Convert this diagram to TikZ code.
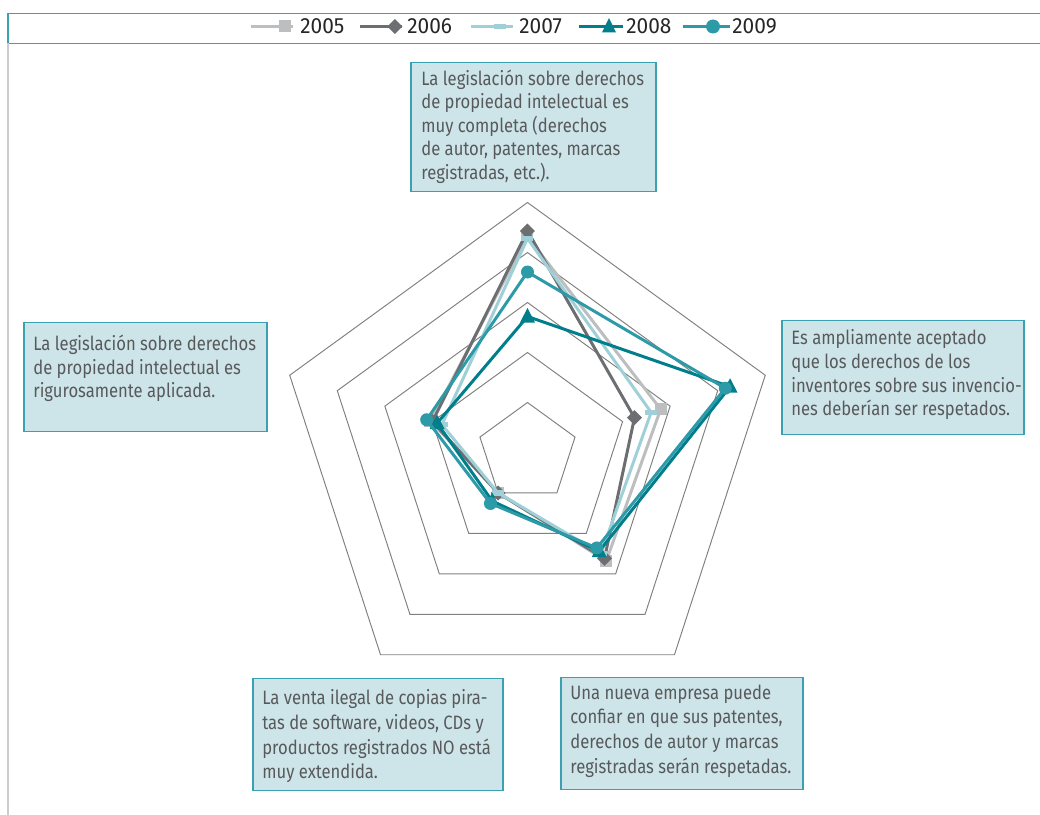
\documentclass[tikz,border=0pt]{standalone}
\usepackage{fontspec}
\setmainfont{Fira Sans}[FakeStretch = 0.86]
\newfontfamily\fonteano{Fira Sans}[FakeStretch = 0.95]
\usepackage{xcolor}

\definecolor{c2005}{HTML}{BCBEC0}
\definecolor{c2006}{HTML}{6D6E71}
\definecolor{c2007}{HTML}{9FD0D8}
\definecolor{c2008}{HTML}{007E8C}
\definecolor{c2009}{HTML}{2D9AA8}
\definecolor{fundocaixa}{HTML}{CDE5E9}
\definecolor{bordacaixa}{HTML}{3AA0B2}
\definecolor{textocaixa}{HTML}{58595B}
\definecolor{grade}{HTML}{808080}

\begin{document}
\begin{tikzpicture}[scale = 1,
	grade/.style  = {draw = grade, line width = 0.55pt, line join = miter},
	serie/.style  = {line width = 1.7pt, line join = round},
	caixa/.style  = {fill = fundocaixa, draw = bordacaixa, line width = 0.8pt},
	rotulo/.style = {anchor = north west, align = left, inner sep = 0pt, text = textocaixa,
	                 font = \fontsize{11}{13.4}\selectfont},
	rotulobaixo/.style = {rotulo, font = \fontsize{11}{14}\selectfont},
	ano/.style    = {anchor = west, inner sep = 0pt, text = black!85,
	                 font = \fonteano\fontsize{12.5}{14}\selectfont}]

	\useasboundingbox (-10.55, -7.25) rectangle (10.25, 9.05);

	%%% MOLDURA E LEGENDA %%%

	\draw[bordacaixa, line width = 0.9pt] (-10.39, 8.78) rectangle (10.6, 8.18);
	\draw[black!20, line width = 0.8pt] (-10.39, 8.18) -- (-10.39, -7.25);

	\draw[c2005, line width = 1.7pt] (-5.53, 8.52) -- (-4.69, 8.52);
	\fill[c2005] (-4.97, 8.40) rectangle (-4.73, 8.64);
	\node[ano] (ano2005) at (-4.55, 8.52) {2005};

	\draw[c2006, line width = 1.7pt] (-3.35, 8.52) -- (-2.51, 8.52);
	\fill[c2006] (-2.65, 8.67) -- (-2.50, 8.52) -- (-2.65, 8.37) -- (-2.80, 8.52) -- cycle;
	\node[ano] (ano2006) at (-2.41, 8.52) {2006};

	\draw[c2007, line width = 1.7pt] (-1.13, 8.52) -- (-0.29, 8.52);
	\draw[c2007, line width = 3pt] (-0.67, 8.52) -- (-0.43, 8.52);
	\node[ano] (ano2007) at (-0.17, 8.52) {2007};

	\draw[c2008, line width = 1.7pt] (1.03, 8.52) -- (1.91, 8.52);
	\fill[c2008] (1.63, 8.69) -- (1.77, 8.40) -- (1.49, 8.40) -- cycle;
	\node[ano] (ano2008) at (1.97, 8.52) {2008};

	\draw[c2009, line width = 1.7pt] (3.11, 8.52) -- (4.05, 8.52);
	\fill[c2009] (3.71, 8.52) circle (0.14);
	\node[ano] (ano2009) at (4.09, 8.52) {2009};


	%%% GRADE DO RADAR %%%

	\draw[grade] (90:1) -- (18:1) -- (-54:1) -- (-126:1) -- (162:1) -- cycle;
	\draw[grade] (90:2) -- (18:2) -- (-54:2) -- (-126:2) -- (162:2) -- cycle;
	\draw[grade] (90:3) -- (18:3) -- (-54:3) -- (-126:3) -- (162:3) -- cycle;
	\draw[grade] (90:4) -- (18:4) -- (-54:4) -- (-126:4) -- (162:4) -- cycle;
	\draw[grade] (90:5) -- (18:5) -- (-54:5) -- (-126:5) -- (162:5) -- cycle;


	%%% SERIES %%%

	% 2005
	\draw[serie, c2005] (90:4.32) -- (18:2.80) -- (-54:2.68) -- (-126:1.00) -- (162:2.04) -- cycle;
	\fill[c2005] (90:4.32) +(-0.12, -0.12) rectangle +(0.12, 0.12);
	\fill[c2005] (18:2.80) +(-0.12, -0.12) rectangle +(0.12, 0.12);
	\fill[c2005] (-54:2.68) +(-0.12, -0.12) rectangle +(0.12, 0.12);
	\fill[c2005] (-126:1.00) +(-0.12, -0.12) rectangle +(0.12, 0.12);
	\fill[c2005] (162:2.04) +(-0.12, -0.12) rectangle +(0.12, 0.12);

	% 2006
	\draw[serie, c2006] (90:4.43) -- (18:2.25) -- (-54:2.62) -- (-126:1.00) -- (162:2.00) -- cycle;
	\fill[c2006] (90:4.43) +(0, 0.15) -- +(0.15, 0) -- +(0, -0.15) -- +(-0.15, 0) -- cycle;
	\fill[c2006] (18:2.25) +(0, 0.15) -- +(0.15, 0) -- +(0, -0.15) -- +(-0.15, 0) -- cycle;
	\fill[c2006] (-54:2.62) +(0, 0.15) -- +(0.15, 0) -- +(0, -0.15) -- +(-0.15, 0) -- cycle;
	\fill[c2006] (-126:1.00) +(0, 0.15) -- +(0.15, 0) -- +(0, -0.15) -- +(-0.15, 0) -- cycle;
	\fill[c2006] (162:2.00) +(0, 0.15) -- +(0.15, 0) -- +(0, -0.15) -- +(-0.15, 0) -- cycle;

	% 2007
	\draw[serie, c2007] (90:4.28) -- (18:2.60) -- (-54:2.50) -- (-126:1.00) -- (162:1.80) -- cycle;
	\draw[c2007, line width = 3pt] (90:4.28) +(-0.12, 0) -- +(0.12, 0);
	\draw[c2007, line width = 3pt] (18:2.60) +(-0.12, 0) -- +(0.12, 0);
	\draw[c2007, line width = 3pt] (-54:2.50) +(-0.12, 0) -- +(0.12, 0);
	\draw[c2007, line width = 3pt] (-126:1.00) +(-0.12, 0) -- +(0.12, 0);
	\draw[c2007, line width = 3pt] (162:1.80) +(-0.12, 0) -- +(0.12, 0);

	% 2008
	\draw[serie, c2008] (90:2.72) -- (18:4.26) -- (-54:2.44) -- (-126:1.20) -- (162:1.90) -- cycle;
	\fill[c2008] (90:2.72) +(0, 0.17) -- +(0.15, -0.12) -- +(-0.15, -0.12) -- cycle;
	\fill[c2008] (18:4.26) +(0, 0.17) -- +(0.15, -0.12) -- +(-0.15, -0.12) -- cycle;
	\fill[c2008] (-54:2.44) +(0, 0.17) -- +(0.15, -0.12) -- +(-0.15, -0.12) -- cycle;
	\fill[c2008] (-126:1.20) +(0, 0.17) -- +(0.15, -0.12) -- +(-0.15, -0.12) -- cycle;
	\fill[c2008] (162:1.90) +(0, 0.17) -- +(0.15, -0.12) -- +(-0.15, -0.12) -- cycle;

	% 2009
	\draw[serie, c2009] (90:3.61) -- (18:4.16) -- (-54:2.36) -- (-126:1.26) -- (162:2.12) -- cycle;
	\fill[c2009] (90:3.61) circle (0.13);
	\fill[c2009] (18:4.16) circle (0.13);
	\fill[c2009] (-54:2.36) circle (0.13);
	\fill[c2009] (-126:1.26) circle (0.13);
	\fill[c2009] (162:2.12) circle (0.13);


	%%% CAIXAS DE TEXTO %%%

	\draw[caixa] (-2.33, 7.80) rectangle (2.57, 5.22);
	\node[rotulo] (eixoTopo) at (-2.13, 7.66) {La legislación sobre derechos\\de propiedad intelectual es\\muy completa (derechos\\de autor, patentes, marcas\\registradas, etc.).};

	\draw[caixa] (5.09, 2.64) rectangle (9.93, 0.36);
	\node[rotulo] (eixoDireita) at (5.27, 2.46) {Es ampliamente aceptado\\que los derechos de los\\inventores sobre sus invencio-\\nes deberían ser respetados.};

	\draw[caixa] (0.67, -4.50) rectangle (5.51, -6.74);
	\node[rotulobaixo] (eixoBaixoDir) at (0.85, -4.64) {Una nueva empresa puede\\confiar en que sus patentes,\\derechos de autor y marcas\\registradas serán respetadas.};

	\draw[caixa] (-5.49, -4.52) rectangle (-0.49, -6.76);
	\node[rotulobaixo] (eixoBaixoEsq) at (-5.31, -4.74) {La venta ilegal de copias pira-\\tas de software, videos, CDs y\\productos registrados NO está\\muy extendida.};

	\draw[caixa] (-10.07, 2.60) rectangle (-5.21, 0.42);
	\node[rotulo] (eixoEsquerda) at (-9.89, 2.35) {La legislación sobre derechos\\de propiedad intelectual es\\rigurosamente aplicada.};

\end{tikzpicture}
\end{document}
